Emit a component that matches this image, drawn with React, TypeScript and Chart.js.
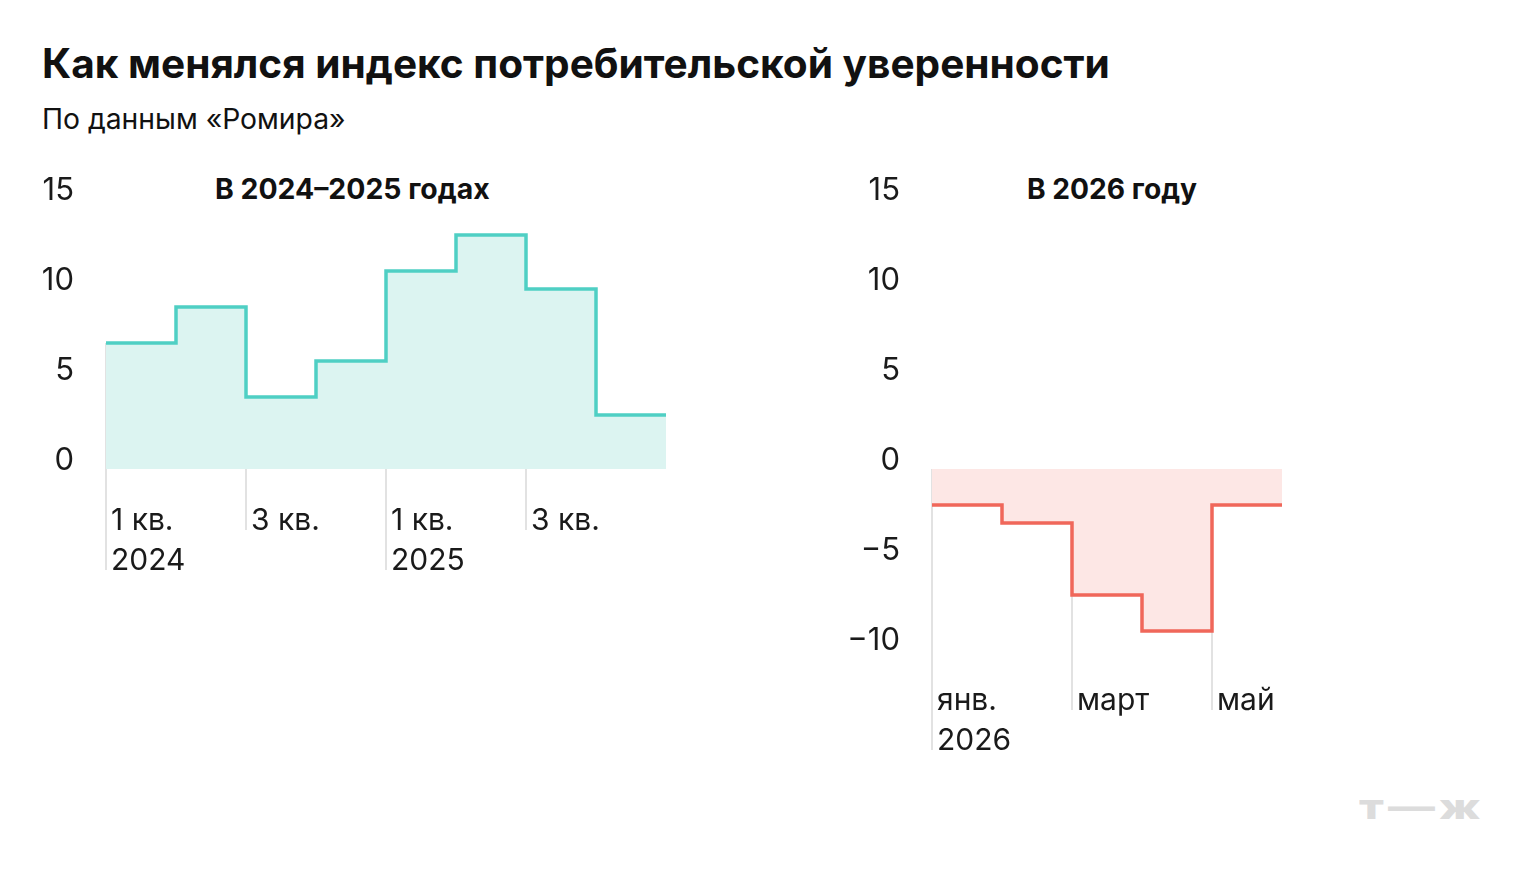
import { useEffect, useRef } from "react";
import { Chart, registerables } from "chart.js";

Chart.register(...registerables);

// 2024–2025, by quarter
const quarterValues = [7, 9, 4, 6, 11, 13, 10, 3];
const quarterTickPositions = [0, 2, 4, 6];
const quarterTickLabels: (string | string[])[] = [["1 кв.", "2024"], "3 кв.", ["1 кв.", "2025"], "3 кв."];
const quarterYTicks = [0, 5, 10, 15];

// 2026, by month
const monthValues = [-2, -3, -7, -9, -2];
const monthTickPositions = [0, 2, 4];
const monthTickLabels: (string | string[])[] = [["янв.", "2026"], "март", "май"];
const monthYTicks = [-10, -5, 0, 5, 10, 15];

const FONT = "Inter, 'Noto Sans', sans-serif";

type StepProps = {
  values: number[];
  tickPositions: number[];
  tickLabels: (string | string[])[];
  yTicks: number[];
  lineColor: string;
  fillColor: string;
  left: number;
  top: number;
  width: number;
  height: number;
  areaLeft: number; // chart area left inside canvas
  areaTop: number;
  areaRight: number;
  labelGap: number;
};

function StepChart(props: StepProps) {
  const canvasRef = useRef<HTMLCanvasElement | null>(null);

  useEffect(() => {
    if (!canvasRef.current) return;
    const { values, tickPositions, tickLabels, yTicks } = props;

    // extra point closes the last step
    const points = values.map((v, i) => ({ x: i, y: v }));
    points.push({ x: values.length, y: values[values.length - 1] });

    const yMin = Math.min(...yTicks);
    const yMax = Math.max(...yTicks);
    const xAxisHeight = 131;

    // vertical separators: from the step (or zero) down through the labels
    const separators = {
      id: "separators",
      beforeDatasetsDraw(chart: Chart) {
        const { ctx, chartArea } = chart;
        const xs = chart.scales.x;
        const ys = chart.scales.y;
        ctx.save();
        ctx.strokeStyle = "#e2e2e2";
        ctx.lineWidth = 2;
        tickPositions.forEach((pos, i) => {
          const px = Math.round(xs.getPixelForValue(pos));
          const top = ys.getPixelForValue(Math.max(0, values[pos]));
          const lines = Array.isArray(tickLabels[i]) ? tickLabels[i].length : 1;
          const bottom = chartArea.bottom + 21 + 40 * lines;
          ctx.beginPath();
          ctx.moveTo(px, top);
          ctx.lineTo(px, bottom);
          ctx.stroke();
        });
        ctx.restore();
      },
    };

    const chart = new Chart(canvasRef.current, {
      type: "line",
      data: {
        datasets: [
          {
            data: points,
            stepped: true,
            borderColor: props.lineColor,
            borderWidth: 3.5,
            borderJoinStyle: "miter",
            borderCapStyle: "butt",
            backgroundColor: props.fillColor,
            fill: "origin",
            pointRadius: 0,
          },
        ],
      },
      options: {
        responsive: false,
        animation: false,
        devicePixelRatio: 1,
        layout: {
          padding: {
            left: 0,
            top: props.areaTop,
            right: props.width - props.areaRight,
            bottom: 0,
          },
        },
        plugins: {
          legend: { display: false },
          tooltip: { enabled: false },
          title: { display: false },
        },
        scales: {
          x: {
            type: "linear",
            min: 0,
            max: values.length,
            grid: { display: false, drawTicks: false },
            border: { display: false },
            afterBuildTicks: (scale: any) => {
              scale.ticks = tickPositions.map((v) => ({ value: v }));
            },
            afterFit: (scale: any) => {
              scale.height = xAxisHeight;
              scale.paddingLeft = 0;
              scale.paddingRight = 0;
            },
            ticks: {
              autoSkip: false,
              maxRotation: 0,
              minRotation: 0,
              align: "start",
              labelOffset: 5,
              padding: props.labelGap,
              color: "#1a1a1a",
              font: { family: FONT, size: 30, lineHeight: 40 / 30 },
              callback: (value: any) => tickLabels[tickPositions.indexOf(Number(value))],
            },
          },
          y: {
            min: yMin,
            max: yMax,
            grid: { display: false, drawTicks: false },
            border: { display: false },
            afterBuildTicks: (scale: any) => {
              scale.ticks = yTicks.map((v) => ({ value: v }));
            },
            afterFit: (scale: any) => {
              scale.width = props.areaLeft;
              scale.paddingTop = 0;
              scale.paddingBottom = 0;
            },
            ticks: {
              padding: 32,
              labelOffset: -8,
              color: "#1a1a1a",
              font: { family: FONT, size: 31 },
              callback: (value: any) => (Number(value) < 0 ? "\u2212" + Math.abs(Number(value)) : String(value)),
            },
          },
        },
      },
      plugins: [separators],
    });

    return () => {
      chart.destroy();
    };
  }, []);

  return (
    <canvas
      ref={canvasRef}
      width={props.width}
      height={props.height}
      style={{ position: "absolute", left: props.left, top: props.top, width: props.width, height: props.height }}
    />
  );
}

export default function App() {
  return (
    <div
      style={{
        position: "absolute",
        left: 0,
        top: 0,
        width: 1520,
        height: 880,
        background: "#fff",
        fontFamily: FONT,
        color: "#111",
        overflow: "hidden",
      }}
    >
      <div style={{ position: "absolute", left: 42, top: 43, fontSize: 40.6, lineHeight: "41px", fontWeight: 700, whiteSpace: "nowrap" }}>
        Как менялся индекс потребительской уверенности
      </div>
      <div style={{ position: "absolute", left: 42, top: 105, fontSize: 28.3, lineHeight: "29px", whiteSpace: "nowrap" }}>
        По данным «Ромира»
      </div>
      <div style={{ position: "absolute", left: 215, top: 175, fontSize: 28.4, lineHeight: "28px", fontWeight: 700, whiteSpace: "nowrap" }}>
        В 2024–2025 годах
      </div>
      <div style={{ position: "absolute", left: 1027, top: 175, fontSize: 28.2, lineHeight: "28px", fontWeight: 700, whiteSpace: "nowrap" }}>
        В 2026 году
      </div>

      <StepChart
        values={quarterValues}
        tickPositions={quarterTickPositions}
        tickLabels={quarterTickLabels}
        yTicks={quarterYTicks}
        lineColor="#4fcfc4"
        fillColor="#dcf4f1"
        left={0}
        top={150}
        width={700}
        height={450}
        areaLeft={106}
        areaTop={49}
        areaRight={666}
        labelGap={32}
      />
      <StepChart
        values={monthValues}
        tickPositions={monthTickPositions}
        tickLabels={monthTickLabels}
        yTicks={monthYTicks}
        lineColor="#f0675a"
        fillColor="#fde7e5"
        left={820}
        top={150}
        width={500}
        height={630}
        areaLeft={112}
        areaTop={49}
        areaRight={462}
        labelGap={32}
      />

      <div
        style={{
          position: "absolute",
          left: 1359,
          top: 790,
          fontSize: 34,
          lineHeight: "34px",
          fontWeight: 800,
          letterSpacing: 3,
          color: "#dcdcdc",
          whiteSpace: "nowrap",
          transform: "scaleX(1.38)",
          transformOrigin: "left top",
        }}
      >
        т—ж
      </div>
    </div>
  );
}
